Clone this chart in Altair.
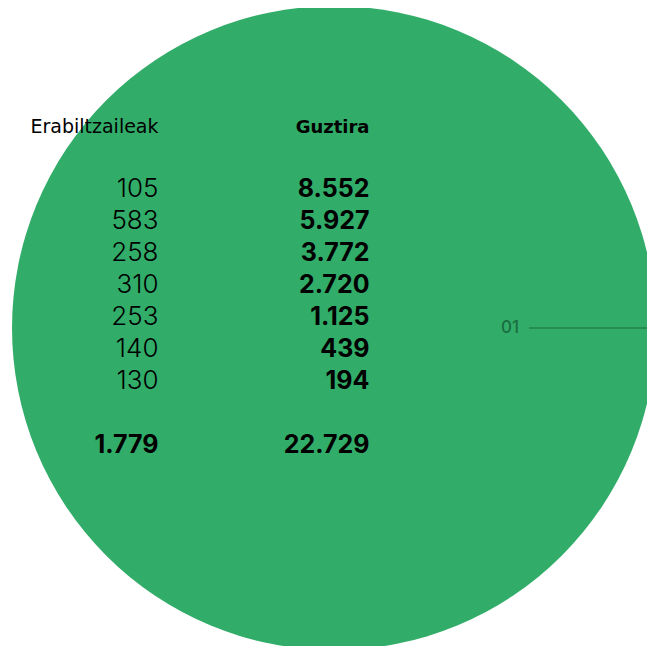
import altair as alt
import pandas as pd

# ---- data ----
header_labels = ["Erabiltzaileak", "Guztira"]
users = [105, 583, 258, 310, 253, 140, 130]
totals = [8552, 5927, 3772, 2720, 1125, 439, 194]
users_sum = 1779
totals_sum = 22729
marker_label = "01"


def fmt(n):
    return f"{n:,}".replace(",", ".")


# table layout: column index, row index (row 8 is the total row, row -2 the header)
light_df = pd.DataFrame({"col": [0] * len(users), "row": list(range(len(users))),
                         "label": [fmt(v) for v in users]})
bold_df = pd.DataFrame({"col": [1] * len(totals) + [0, 1],
                        "row": list(range(len(totals))) + [8, 8],
                        "label": [fmt(v) for v in totals] + [fmt(users_sum), fmt(totals_sum)]})
head_df = pd.DataFrame({"col": [0, 1], "row": [-2, -2], "label": header_labels})

W, H = 639, 638
xscale = alt.Scale(domain=[-150.5 / 211, (W - 150.5) / 211])
yscale = alt.Scale(domain=[-188.5 / 32, (H - 188.5) / 32], reverse=True)
X = alt.X("col:Q", scale=xscale, axis=None)
Y = alt.Y("row:Q", scale=yscale, axis=None)

GREEN = "#31ad69"
DARK = "#1b6e3f"

circle = alt.Chart(pd.DataFrame({"k": [0]})).mark_circle(
    color=GREEN, opacity=1, size=644 * 644
).encode(x=alt.value(326), y=alt.value(320))

rule = alt.Chart(pd.DataFrame({"k": [0]})).mark_rule(
    color=DARK, strokeWidth=1.2
).encode(x=alt.value(521), x2=alt.value(W), y=alt.value(320))

marker = alt.Chart(pd.DataFrame({"label": [marker_label]})).mark_text(
    font="Inter", fontSize=17, fontWeight=500, color=DARK, align="right", baseline="middle"
).encode(x=alt.value(511), y=alt.value(320), text="label:N")

light = alt.Chart(light_df).mark_text(
    font="Inter", fontSize=26, fontWeight=300, color="black", align="right", baseline="alphabetic"
).encode(x=X, y=Y, text="label:N")

bold = alt.Chart(bold_df).mark_text(
    font="Inter", fontSize=25, fontWeight=700, color="black", align="right", baseline="alphabetic"
).encode(x=X, y=Y, text="label:N")

head0 = alt.Chart(head_df.iloc[[0]]).mark_text(
    font="DejaVu Sans", fontSize=19, fontWeight=400, color="black", align="right", baseline="alphabetic"
).encode(x=X, y=Y, text="label:N")

head1 = alt.Chart(head_df.iloc[[1]]).mark_text(
    font="DejaVu Sans", fontSize=18, fontWeight=700, color="black", align="right", baseline="alphabetic"
).encode(x=X, y=Y, text="label:N")

chart = alt.layer(circle, rule, marker, head0, head1, light, bold).properties(
    width=W, height=H, autosize=alt.AutoSizeParams(type="none"), padding=0,
    background="white"
).configure_view(stroke=None)

chart.save("out.html", embed_options={"renderer": "svg", "actions": False})
